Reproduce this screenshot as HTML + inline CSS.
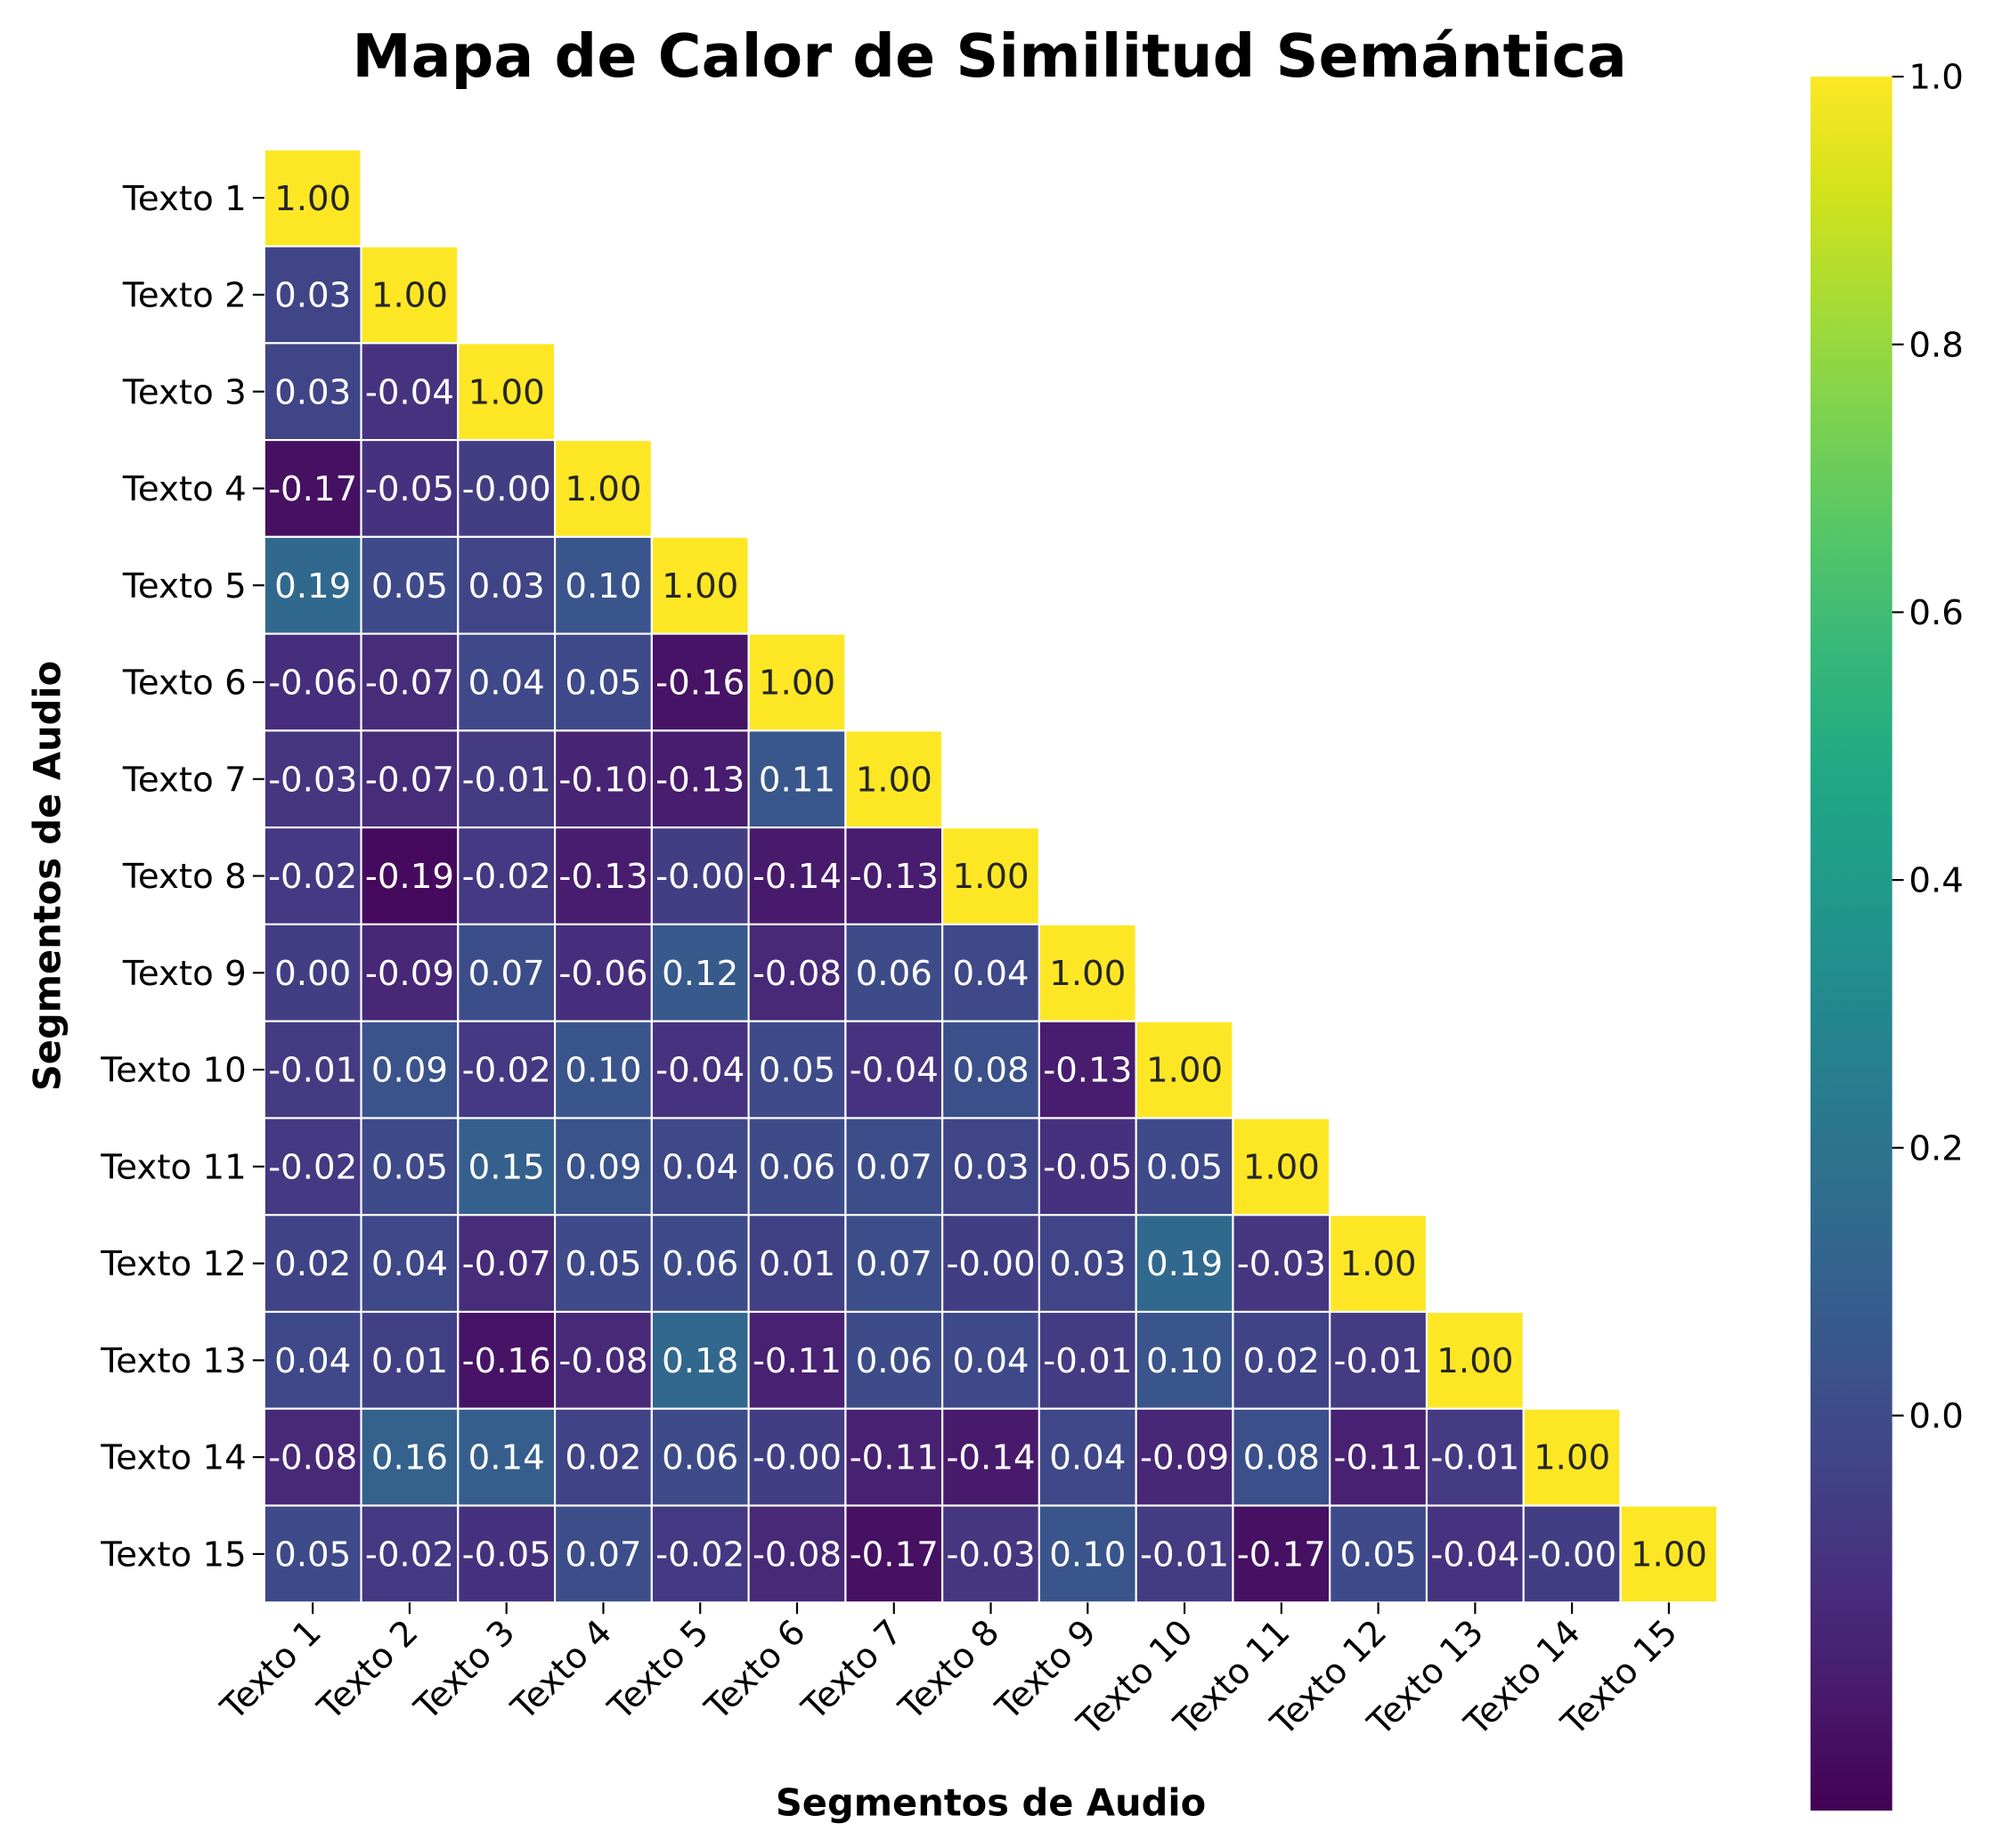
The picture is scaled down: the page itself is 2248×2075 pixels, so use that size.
<!DOCTYPE html>
<html><head><meta charset="utf-8"><style>
html,body{margin:0;padding:0;background:#fff;}
svg{display:block;font-family:"DejaVu Sans","Liberation Sans",sans-serif;}
</style></head><body>
<svg id="chart" width="2248" height="2075" viewBox="0 0 1568 1447.3" xmlns="http://www.w3.org/2000/svg">
<text x="775" y="60" text-anchor="middle" font-size="46.5" font-weight="bold">Mapa de Calor de Similitud Semántica</text>
<text x="776" y="1422" text-anchor="middle" font-size="29" font-weight="bold">Segmentos de Audio</text>
<text transform="translate(47,686) rotate(-90)" text-anchor="middle" font-size="29" font-weight="bold">Segmentos de Audio</text>
<g id="cells"></g>
<g id="yticks"></g>
<g id="xticks"></g>
<defs><linearGradient id="vir" x1="0" y1="1" x2="0" y2="0"></linearGradient></defs>
<rect x="1418" y="60" width="64" height="1358" fill="url(#vir)"/>
<g id="cbticks"></g>
</svg>
<script>
const labels = ["Texto 1","Texto 2","Texto 3","Texto 4","Texto 5","Texto 6","Texto 7","Texto 8","Texto 9","Texto 10","Texto 11","Texto 12","Texto 13","Texto 14","Texto 15"];
const row1 = [1];
const row2 = [0.03,1];
const row3 = [0.03,-0.04,1];
const row4 = [-0.17,-0.05,-0.001,1];
const row5 = [0.19,0.05,0.03,0.10,1];
const row6 = [-0.06,-0.07,0.04,0.05,-0.16,1];
const row7 = [-0.03,-0.07,-0.01,-0.10,-0.13,0.11,1];
const row8 = [-0.02,-0.19,-0.02,-0.13,-0.001,-0.14,-0.13,1];
const row9 = [0.00,-0.09,0.07,-0.06,0.12,-0.08,0.06,0.04,1];
const row10 = [-0.01,0.09,-0.02,0.10,-0.04,0.05,-0.04,0.08,-0.13,1];
const row11 = [-0.02,0.05,0.15,0.09,0.04,0.06,0.07,0.03,-0.05,0.05,1];
const row12 = [0.02,0.04,-0.07,0.05,0.06,0.01,0.07,-0.001,0.03,0.19,-0.03,1];
const row13 = [0.04,0.01,-0.16,-0.08,0.18,-0.11,0.06,0.04,-0.01,0.10,0.02,-0.01,1];
const row14 = [-0.08,0.16,0.14,0.02,0.06,-0.001,-0.11,-0.14,0.04,-0.09,0.08,-0.11,-0.01,1];
const row15 = [0.05,-0.02,-0.05,0.07,-0.02,-0.08,-0.17,-0.03,0.10,-0.01,-0.17,0.05,-0.04,-0.001,1];
const rows = [row1,row2,row3,row4,row5,row6,row7,row8,row9,row10,row11,row12,row13,row14,row15];
const cbTicks = [0.0,0.2,0.4,0.6,0.8,1.0];
const cellVmin = -0.22, cbVmin = -0.295, vmax = 1.0;

const NS="http://www.w3.org/2000/svg";
const vir=[[68,1,84],[72,26,108],[71,47,125],[65,68,135],[57,86,140],[49,104,142],[42,120,142],[35,137,142],[31,154,138],[34,168,132],[53,183,121],[84,197,104],[122,209,81],[165,219,54],[210,226,27],[253,231,37]];
function cmap(t){t=Math.max(0,Math.min(1,t));const p=t*(vir.length-1);const i=Math.min(vir.length-2,Math.floor(p));const f=p-i;const a=vir[i],b=vir[i+1];return `rgb(${a.map((v,k)=>Math.round(v+(b[k]-v)*f)).join(",")})`;}
function norm(v){return (v-cellVmin)/(vmax-cellVmin);}
function fmt(v){let s=v.toFixed(2);if(v<0&&s==="0.00")s="-0.00";return s;}
const x0=207,y0=117,cw=(1345-207)/15;
const xs=i=>x0+i*cw, ys=i=>y0+i*cw;
function mk(tag,attrs,parent){const e=document.createElementNS(NS,tag);for(const k in attrs)e.setAttribute(k,attrs[k]);parent.appendChild(e);return e;}
const cells=document.getElementById('cells');
rows.forEach((r,i)=>r.forEach((v,j)=>{
  const rc=mk('rect',{x:xs(j),y:ys(i),width:cw,height:cw,fill:cmap(norm(v)),stroke:'#fff','stroke-width':1.5},cells);
  
  
  const t=mk('text',{x:xs(j)+cw/2,y:ys(i)+cw/2+9.5,'text-anchor':'middle','font-size':27,fill:norm(v)>0.6?'#262626':'#fff'},cells);
  
  
  t.textContent=fmt(v);
}));
const yt=document.getElementById('yticks'), xt=document.getElementById('xticks');
labels.forEach((l,i)=>{
  const yc=ys(i)+cw/2;
  mk('line',{x1:198,x2:207,y1:yc,y2:yc,stroke:'#000','stroke-width':1.5},yt);
  const t=mk('text',{x:193,y:yc+9.5,'text-anchor':'end','font-size':27},yt);
  
  
  t.textContent=l;
  const xc=xs(i)+cw/2;
  mk('line',{x1:xc,x2:xc,y1:1255,y2:1264,stroke:'#000','stroke-width':1.5},xt);
  const u=mk('text',{x:xc+8,y:1280,'text-anchor':'end','font-size':27,transform:`rotate(-45 ${xc+8} 1280)`},xt);
  
  
  u.textContent=l;
});
const g=document.getElementById('vir');
vir.forEach((c,i)=>mk('stop',{offset:(i/(vir.length-1)*100)+'%','stop-color':`rgb(${c})`},g));
const cb=document.getElementById('cbticks');
const cy=v=>1418-(v-cbVmin)/(vmax-cbVmin)*1358;
cbTicks.forEach(v=>{
  mk('line',{x1:1482,x2:1491,y1:cy(v),y2:cy(v),stroke:'#000','stroke-width':1.5},cb);
  const t=mk('text',{x:1495,y:cy(v)+9.5,'font-size':27},cb);
  
  
  t.textContent=v.toFixed(1);
});
</script>
</body></html>
